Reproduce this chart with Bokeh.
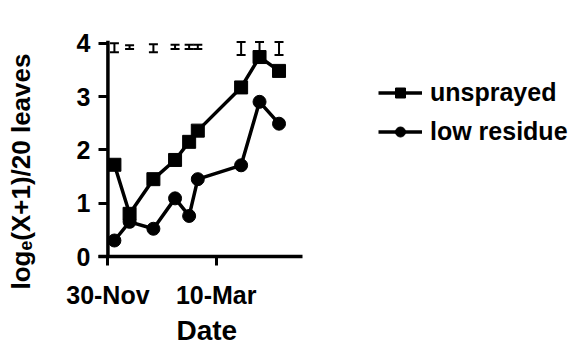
import pandas as pd
from bokeh.plotting import figure
from bokeh.models import (ColumnDataSource, Range1d, FixedTicker, DatetimeTickFormatter,
                          Span, Whisker, TeeHead, Legend, LegendItem, Title, LinearAxis)
from bokeh.embed import file_html
from bokeh.resources import INLINE

# ---- data ----
dates = ["1998-12-06", "1998-12-20", "1999-01-11", "1999-01-31", "1999-02-13",
         "1999-02-21", "1999-04-02", "1999-04-19", "1999-05-07"]
unsprayed = [1.72, 0.80, 1.45, 1.81, 2.15, 2.36, 3.17, 3.74, 3.48]
low_residue = [0.30, 0.65, 0.52, 1.09, 0.76, 1.45, 1.71, 2.90, 2.49]
err_hi = [4.00, 3.96, 3.98, 3.97, 3.97, 3.97, 4.02, 4.02, 4.02]
err_lo = [3.83, 3.89, 3.83, 3.89, 3.89, 3.89, 3.78, 3.78, 3.78]
tick_dates = ["1998-11-30", "1999-03-10"]
y_ticks = [0, 1, 2, 3, 4]
series_names = ["unsprayed", "low residue"]
x_title = "Date"
y_title = "logₑ(X+1)/20 leaves"

FONT = "Liberation Sans"

def ms(d):
    return pd.Timestamp(d).timestamp() * 1000.0

x_vals = [pd.Timestamp(d) for d in dates]
src = ColumnDataSource(dict(x=x_vals, u=unsprayed, l=low_residue, hi=err_hi, lo=err_lo))

origin = ms(tick_dates[0])
day = 86400000.0
axis_start = origin - 8.7 * day
axis_end = origin + 179.4 * day

# the frame continues to the right (empty) so the legend can sit inside it
p = figure(width=577, height=350, output_backend="svg", toolbar_location=None,
           x_axis_type="datetime",
           x_range=Range1d(axis_start, origin + 429.0 * day),
           y_range=Range1d(0, 4.05),
           min_border_left=95, min_border_right=5, min_border_top=40, min_border_bottom=93)
p.outline_line_color = None
p.xgrid.visible = False
p.ygrid.visible = False
p.background_fill_color = "white"
p.border_fill_color = "white"

# x axis
xa = p.xaxis[0]
xa.bounds = (axis_start, axis_end)
xa.ticker = FixedTicker(ticks=[ms(d) for d in tick_dates])
xa.formatter = DatetimeTickFormatter(days="%d-%b", months="%d-%b", years="%d-%b")
xa.axis_line_width = 3.5
xa.axis_line_color = "black"
xa.major_tick_line_width = 3
xa.major_tick_out = 9
xa.major_tick_in = 0
xa.minor_tick_line_color = None
xa.major_label_standoff = 15
xa.major_label_text_font = FONT
xa.major_label_text_font_size = "25px"
xa.major_label_text_font_style = "bold"
xa.major_label_text_color = "black"

# y axis (ticks drawn inward up to the axis line at 30-Nov)
ya = p.yaxis[0]
ya.ticker = FixedTicker(ticks=y_ticks)
ya.axis_line_color = None
ya.major_tick_line_width = 3
ya.major_tick_in = 9
ya.major_tick_out = 0
ya.minor_tick_line_color = None
ya.major_label_standoff = 8
ya.major_label_text_font = FONT
ya.major_label_text_font_size = "25px"
ya.major_label_text_font_style = "bold"
ya.major_label_text_color = "black"

# empty spacer axis between tick labels and the y title
spacer = LinearAxis(ticker=FixedTicker(ticks=[], minor_ticks=[]), axis_line_color=None,
                    major_tick_out=0, major_tick_in=0, minor_tick_out=0, minor_tick_in=0,
                    major_tick_line_color=None, minor_tick_line_color=None,
                    major_label_standoff=0, major_label_text_font_size="1px",
                    axis_label="\u00a0", axis_label_standoff=0,
                    axis_label_text_font=FONT, axis_label_text_font_size="26px")
p.add_layout(spacer, "left")

# axis titles
p.add_layout(Title(text=y_title, align="left", offset=-33, vertical_align="middle",
                   standoff=8, text_font=FONT, text_font_size="26px",
                   text_font_style="bold", text_color="black"), "left")
p.add_layout(Title(text=x_title, align="left", offset=78, vertical_align="top",
                   standoff=6, text_font=FONT, text_font_size="28px",
                   text_font_style="bold", text_color="black"), "below")

p.add_layout(Span(location=origin, dimension="height", line_color="black", line_width=3.5))

# error bars
p.add_layout(Whisker(source=src, base="x", upper="hi", lower="lo", dimension="height",
                     line_width=2, line_color="black",
                     upper_head=TeeHead(size=9, line_width=2, line_color="black"),
                     lower_head=TeeHead(size=9, line_width=2, line_color="black")))

# series
lu = p.line("x", "u", source=src, line_width=3.5, line_color="black")
su = p.scatter("x", "u", source=src, marker="square", size=13, color="black")
ll = p.line("x", "l", source=src, line_width=3.5, line_color="black")
sl = p.scatter("x", "l", source=src, marker="circle", size=13, color="black")

legend = Legend(items=[LegendItem(label=series_names[0], renderers=[lu, su]),
                       LegendItem(label=series_names[1], renderers=[ll, sl])],
                location=(280, 110), padding=0, margin=0, spacing=10,
                glyph_width=44, glyph_height=25, label_height=25, label_standoff=8,
                border_line_color=None, background_fill_alpha=0,
                label_text_font=FONT, label_text_font_size="25px",
                label_text_font_style="bold", label_text_color="black")
p.add_layout(legend)

open("out.html", "w").write(file_html(p, INLINE))
